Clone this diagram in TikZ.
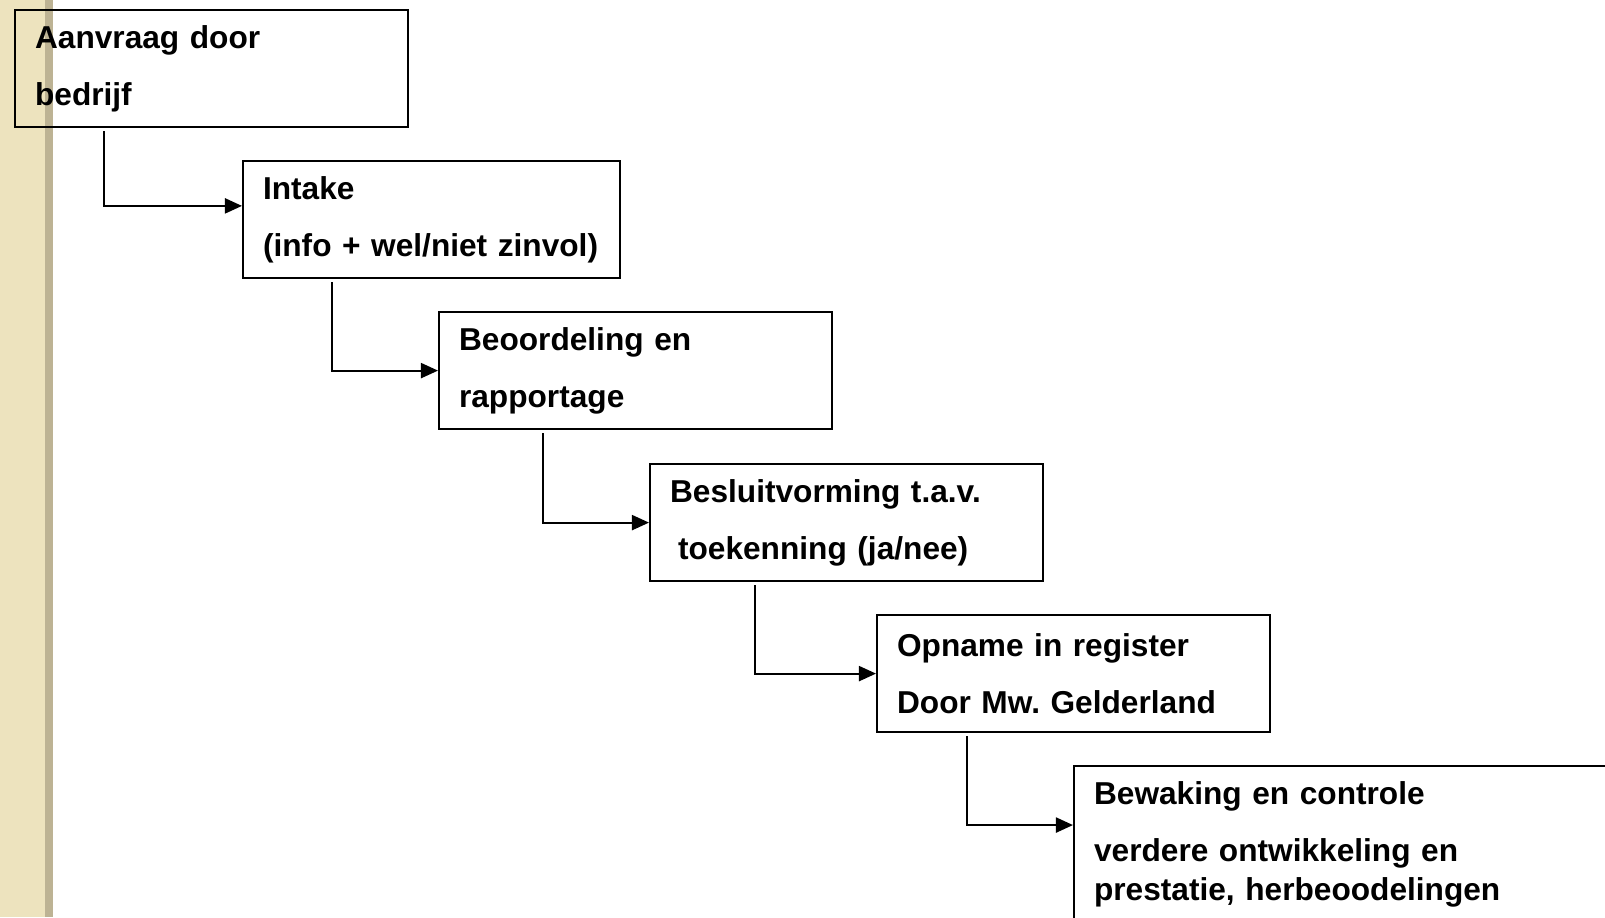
\documentclass[tikz,border=0pt]{standalone}
\usepackage{fontspec}
\setmainfont{Liberation Sans}
\usetikzlibrary{positioning, arrows.meta, calc}
\definecolor{parchment}{HTML}{EDE3BE}
\definecolor{seam}{HTML}{BDB394}

\begin{document}
\begin{tikzpicture}[x=0.01cm, y=-0.01cm,
    every node/.style={font=\fontsize{9}{16.2}\selectfont\bfseries\frenchspacing},
    stepbox/.style={draw, line width=0.6pt, anchor=north west,
                    minimum height=1.17cm, inner xsep=0.2cm, align=left},
    conn/.style={line width=0.6pt, -{Triangle[length=1.7mm, width=1.5mm]}}]
  \clip (0,0) rectangle (1605,917);
  % page edge
  \fill[parchment] (0,0) rectangle (45,917);
  \fill[seam] (45,0) rectangle (53,917);

  \node[stepbox, text width=3.53cm] (aanvraag) at (14,9)
    {Aanvraag door\\bedrijf};
  \node[stepbox, text width=3.37cm] (intake) at (242,160)
    {Intake\\\mbox{(info + wel/niet zinvol)}};
  \node[stepbox, text width=3.53cm] (beoordeling) at (438,311)
    {Beoordeling en\\rapportage};
  \node[stepbox, text width=3.53cm] (besluit) at (649,463)
    {Besluitvorming t.a.v.\\\hspace{0.08cm}toekenning (ja/nee)};
  \node[stepbox, text width=3.53cm] (opname) at (876,614)
    {Opname in register\\Door Mw. Gelderland};
  \node[stepbox, text width=5.0cm, minimum height=1.56cm] (bewaking) at (1073,765)
    {Bewaking en controle\\verdere ontwikkeling en\\[-0.18cm]prestatie, herbeoodelingen};

  \draw[conn] ([xshift=0.9cm, yshift=-0.03cm]aanvraag.south west)
    |- ($(intake.north west)!0.385!(intake.south west)$);
  \draw[conn] ([xshift=0.9cm, yshift=-0.03cm]intake.south west) |- (beoordeling.west);
  \draw[conn] ([xshift=1.05cm, yshift=-0.03cm]beoordeling.south west) |- (besluit.west);
  \draw[conn] ([xshift=1.06cm, yshift=-0.03cm]besluit.south west) |- (opname.west);
  \draw[conn] ([xshift=0.91cm, yshift=-0.03cm]opname.south west)
    |- ([yshift=-0.6cm]bewaking.north west);
\end{tikzpicture}
\end{document}
